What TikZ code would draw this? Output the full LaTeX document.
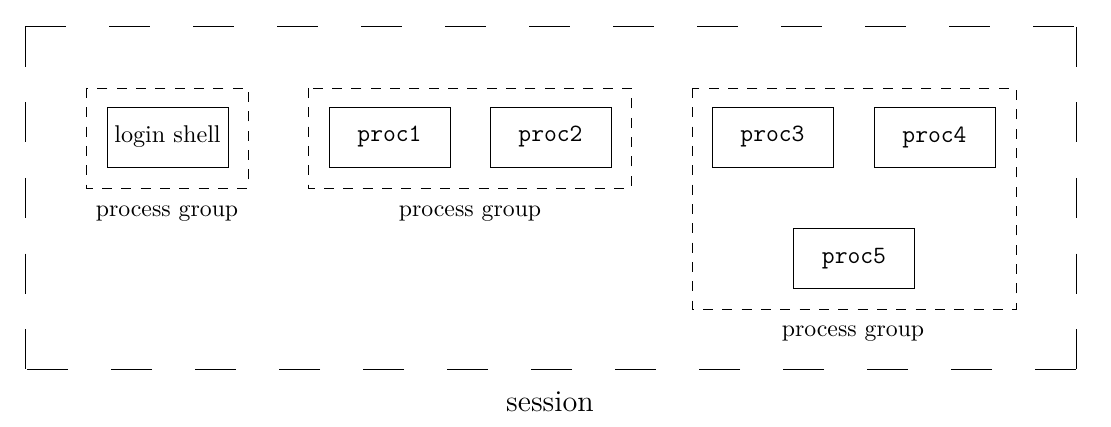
\documentclass[tikz,border=0pt]{standalone}
\begin{document}
\begin{tikzpicture}[x=0.45pt,y=-0.45pt,
  procbox/.style={draw,line width=0.42pt,minimum width=121*0.45pt,minimum height=60*0.45pt,inner sep=0pt},
  pgroup/.style={draw,line width=0.42pt,dash pattern=on 4.5pt off 4.2pt},
  sessline/.style={line width=0.45pt},
  grouplabel/.style={inner sep=0pt,font=\fontsize{10.7}{12}\selectfont},
  ttlabel/.style={font=\fontsize{11.2}{13}\selectfont\ttfamily}]
\useasboundingbox (0,0) rectangle (1111,427);
% session border
\coordinate (s1) at (25,27);
\coordinate (s2) at (1076,27);
\coordinate (s3) at (1076,369);
\coordinate (s4) at (25,369);
\draw[sessline,dash pattern=on 41*0.45pt off 43*0.45pt] (s1) -- (s2);
\draw[sessline,dash pattern=on 41*0.45pt off 43*0.45pt] (s3) -- (s4);
\draw[sessline,dash pattern=on 40*0.45pt off 35.5*0.45pt] (s1) -- (s4);
\draw[sessline,dash pattern=on 40*0.45pt off 35.5*0.45pt] (s2) -- (s3);
% process groups
\draw[pgroup] (86,88) rectangle (248,188);
\draw[pgroup] (308,88) rectangle (631,188);
\draw[pgroup] (692,88) rectangle (1016,309);
% processes
\node[procbox,font=\fontsize{10.9}{12}\selectfont] (login) at (167.5,137) {login shell};
\node[procbox,ttlabel] (p1) at (389.5,137) {proc1};
\node[procbox,ttlabel] (p2) at (550.5,137) {proc2};
\node[procbox,ttlabel] (p3) at (772.5,137) {proc3};
\node[procbox,ttlabel] (p4) at (934.5,137) {proc4};
\node[procbox,ttlabel] (p5) at (854,258.5) {proc5};
% labels
\node[grouplabel] (g1) at (167,213.5) {process group};
\node[grouplabel] (g2) at (470,213.5) {process group};
\node[grouplabel] (g3) at (853,333.5) {process group};
\node[inner sep=0pt,font=\fontsize{13.6}{16}\selectfont] (sess) at (550,401.5) {session};
\end{tikzpicture}
\end{document}
